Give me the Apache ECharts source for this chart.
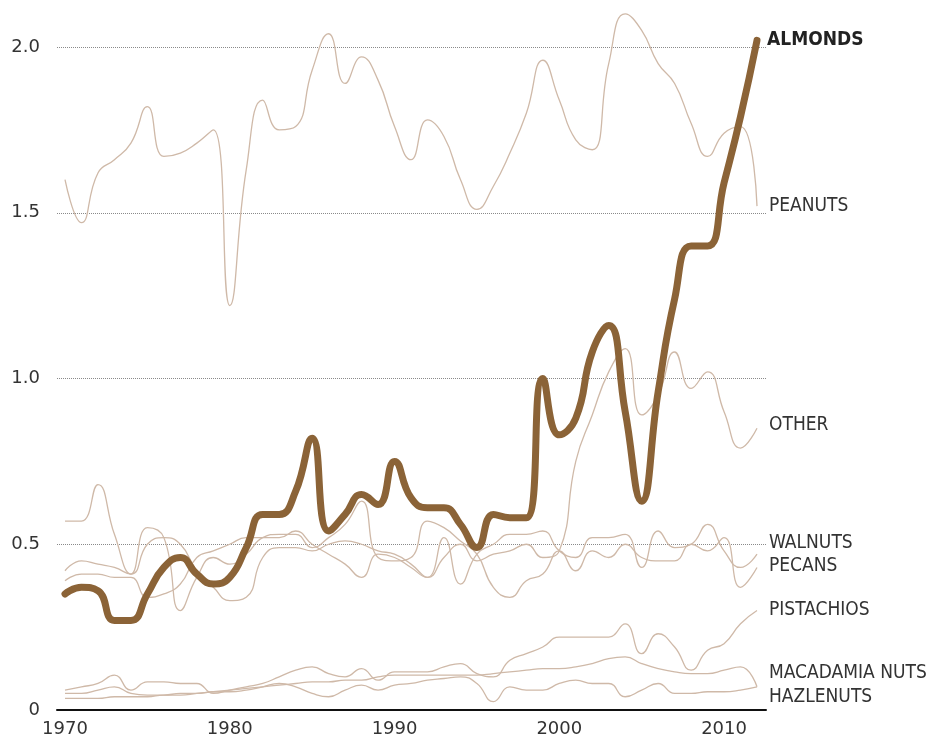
<!DOCTYPE html>
<html><head><meta charset="utf-8">
<script src="https://cdn.jsdelivr.net/npm/echarts@6/dist/echarts.min.js"></script>
<style>html,body{margin:0;padding:0;background:#fff}#c{width:934px;height:741px}</style>
</head><body><div id="c"></div>
<script>
const years = [1970,1971,1972,1973,1974,1975,1976,1977,1978,1979,1980,1981,1982,1983,1984,1985,1986,1987,1988,1989,1990,1991,1992,1993,1994,1995,1996,1997,1998,1999,2000,2001,2002,2003,2004,2005,2006,2007,2008,2009,2010,2011,2012];

const almonds = [0.35,0.37,0.36,0.27,0.27,0.35,0.43,0.46,0.41,0.38,0.40,0.49,0.59,0.59,0.66,0.82,0.54,0.59,0.65,0.62,0.75,0.64,0.61,0.61,0.56,0.49,0.59,0.58,0.58,1.00,0.83,0.88,1.08,1.16,0.90,0.63,0.96,1.24,1.40,1.40,1.59,1.79,2.02];
const peanuts = [1.60,1.47,1.62,1.66,1.71,1.82,1.67,1.68,1.71,1.75,1.22,1.63,1.84,1.75,1.76,1.93,2.04,1.89,1.97,1.90,1.76,1.66,1.78,1.73,1.60,1.51,1.58,1.68,1.80,1.96,1.84,1.72,1.69,1.95,2.10,2.05,1.95,1.89,1.77,1.67,1.74,1.76,1.52];
const other = [0.39,0.41,0.41,0.40,0.40,0.34,0.35,0.38,0.46,0.48,0.50,0.52,0.52,0.52,0.54,0.50,0.47,0.44,0.40,0.47,0.46,0.43,0.40,0.46,0.50,0.45,0.47,0.48,0.50,0.46,0.48,0.75,0.89,1.02,1.09,0.89,0.95,1.08,0.97,1.02,0.90,0.79,0.85];
const walnuts = [0.42,0.45,0.44,0.43,0.41,0.50,0.52,0.50,0.42,0.37,0.33,0.34,0.46,0.49,0.49,0.48,0.50,0.51,0.50,0.48,0.47,0.44,0.40,0.52,0.38,0.47,0.50,0.53,0.53,0.54,0.48,0.46,0.52,0.52,0.53,0.43,0.54,0.49,0.50,0.56,0.48,0.43,0.47];
const pecans = [0.57,0.57,0.68,0.53,0.41,0.55,0.52,0.30,0.40,0.46,0.44,0.47,0.52,0.53,0.53,0.49,0.52,0.56,0.63,0.46,0.45,0.46,0.57,0.55,0.51,0.47,0.37,0.34,0.39,0.41,0.48,0.42,0.48,0.46,0.50,0.46,0.45,0.45,0.50,0.48,0.52,0.37,0.43];
const pistachios = [0.06,0.07,0.08,0.105,0.06,0.085,0.085,0.08,0.08,0.05,0.06,0.07,0.08,0.10,0.12,0.13,0.11,0.10,0.125,0.09,0.115,0.115,0.115,0.13,0.14,0.11,0.10,0.15,0.17,0.19,0.22,0.22,0.22,0.22,0.26,0.17,0.23,0.19,0.12,0.18,0.20,0.26,0.30];
const macadamia = [0.035,0.035,0.035,0.04,0.04,0.04,0.045,0.045,0.05,0.055,0.06,0.065,0.07,0.075,0.08,0.085,0.085,0.09,0.09,0.10,0.105,0.105,0.105,0.105,0.105,0.105,0.11,0.115,0.12,0.125,0.125,0.13,0.14,0.155,0.16,0.14,0.125,0.115,0.11,0.11,0.12,0.13,0.07];
const hazelnuts = [0.05,0.05,0.06,0.07,0.05,0.045,0.045,0.05,0.05,0.055,0.055,0.06,0.07,0.08,0.07,0.05,0.04,0.06,0.075,0.06,0.075,0.08,0.09,0.095,0.10,0.08,0.025,0.07,0.06,0.06,0.08,0.09,0.08,0.08,0.04,0.06,0.08,0.05,0.05,0.055,0.055,0.06,0.07];

const xTickLabels = [1970,1980,1990,2000,2010];
const yTickValues = [0,0.5,1.0,1.5,2.0];

const thinColor = '#cfb9a8';
const labelFont = "'DejaVu Sans Condensed', 'DejaVu Sans', sans-serif";

function pairs(arr){ return years.map((y,i)=>[y,arr[i]]); }
function thin(name, arr, dy){
  return {
    name, type:'line', data:pairs(arr), smooth:0.5, symbol:'none', clip:false, z:2,
    lineStyle:{color:thinColor, width:1.3},
    emphasis:{disabled:true},
    endLabel:{show:true, formatter:name, distance:12, offset:[0,dy], color:'#333', fontSize:19, fontFamily:labelFont}
  };
}

const chart = echarts.init(document.getElementById('c'));
chart.setOption({
  animation:false,
  backgroundColor:'#fff',
  grid:{left:57, right:168, top:47, bottom:31, containLabel:false},
  xAxis:{
    type:'value', min:1969.514, max:2012.546,
    axisLine:{show:true, lineStyle:{color:'#111', width:2}},
    axisTick:{show:false},
    splitLine:{show:false},
    axisLabel:{customValues:xTickLabels, margin:10, color:'#333', fontSize:18, fontFamily:'DejaVu Sans', formatter:v=>String(v)}
  },
  yAxis:{
    type:'value', min:0, max:2, interval:0.5,
    axisLine:{show:false}, axisTick:{show:false},
    splitLine:{show:true, lineStyle:{type:'dotted', color:'#8a8a8a', width:1}},
    axisLabel:{margin:17, color:'#333', fontSize:18, fontFamily:'DejaVu Sans', formatter:v=> v===0 ? '0' : v.toFixed(1)}
  },
  series:[
    thin('PEANUTS', peanuts, 0),
    thin('OTHER', other, -3),
    thin('WALNUTS', walnuts, -11),
    thin('PECANS', pecans, -1),
    thin('PISTACHIOS', pistachios, 0),
    thin('MACADAMIA NUTS', macadamia, -14),
    thin('HAZLENUTS', hazelnuts, 10),
    {
      name:'ALMONDS', type:'line', data:pairs(almonds), smooth:0.5, symbol:'none', clip:false, z:5,
      lineStyle:{color:'#8b6337', width:7, cap:'round', join:'round'},
      emphasis:{disabled:true},
      endLabel:{show:true, formatter:'ALMONDS', distance:10, offset:[0,0], color:'#222', fontSize:19, fontWeight:'bold', fontFamily:labelFont}
    }
  ]
});
</script>
</body></html>
